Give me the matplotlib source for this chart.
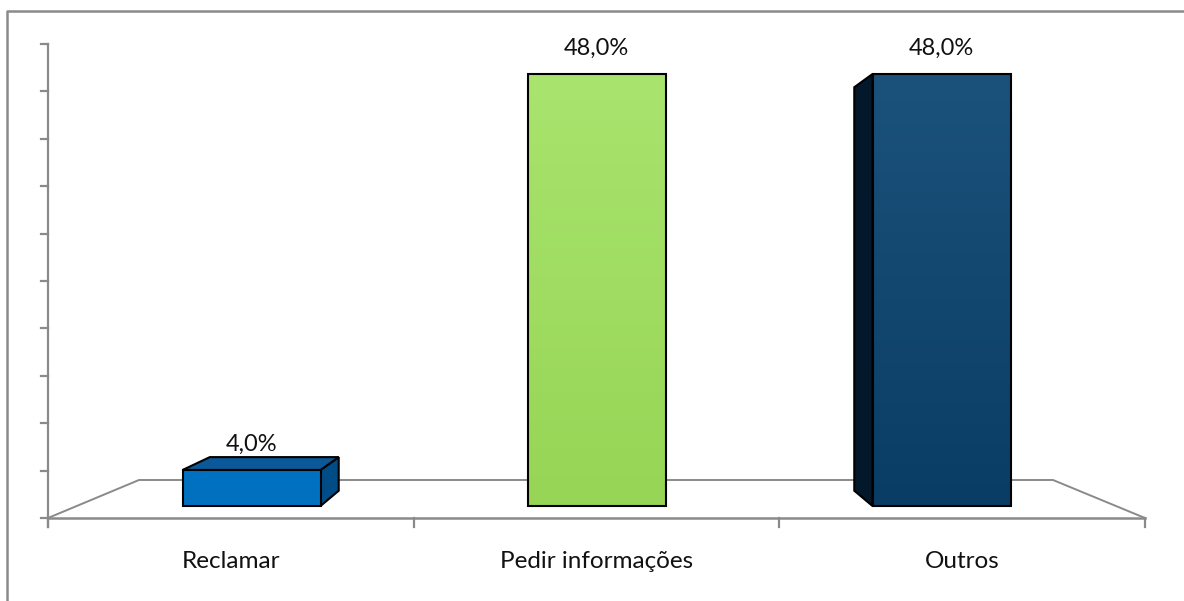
import numpy as np
import matplotlib.pyplot as plt
from matplotlib.patches import Polygon
from matplotlib.colors import LinearSegmentedColormap

plt.rcParams['font.family'] = ['Lato', 'DejaVu Sans']

# dados do gráfico
categorias = ['Reclamar', 'Pedir informações', 'Outros']
valores = [4.0, 48.0, 48.0]
rotulos = ['4,0%', '48,0%', '48,0%']

# cores: frente (topo, base), tampa, lateral
cor_frente = [('#0071C1', '#0070BF'), ('#A9E46E', '#96D555'), ('#1B527B', '#0A3D65')]
cor_tampa = ['#0A5898', '#8FCB52', '#0F3F66']
cor_lado = ['#004C86', '#7FB844', '#03192B']

largura = 0.4
fuga = (1.0, 25.7)   # ponto de fuga da perspectiva
prof = 0.934         # escala da face de trás

fig = plt.figure(figsize=(11.84, 6.01), dpi=100)

# camada de fundo em pixels: moldura, chão e eixos
deco = fig.add_axes([0, 0, 1, 1])
deco.set_xlim(0, 1184)
deco.set_ylim(601, 0)
deco.axis('off')
cinza = '#8A8A8A'
deco.plot([7, 7, 1184], [601, 11, 11], color=cinza, lw=1.8, solid_capstyle='butt')

# chão em perspectiva
deco.plot([48, 139, 1053, 1145], [518, 480, 480, 518], color=cinza, lw=1.4)
deco.plot([48, 1145], [518, 518], color=cinza, lw=1.8)
# eixo vertical e marcas
deco.plot([48, 48], [44, 527], color=cinza, lw=1.6)
for yt in np.linspace(518, 44, 11):
    deco.plot([41, 48], [yt, yt], color=cinza, lw=1.6)
xt = np.linspace(48, 1145, len(categorias) + 1)
for x in xt:
    deco.plot([x, x], [518, 527], color=cinza, lw=1.6)
for i, nome in enumerate(categorias):
    deco.text((xt[i] + xt[i + 1]) / 2, 562, nome, ha='center', va='center',
              fontsize=17.5, color='#111111')

# barras em coordenadas de dados (categoria x percentual)
ax = fig.add_axes([0, 0, 1, 1])
ax.patch.set_alpha(0)
ax.axis('off')


def atras(x, y):
    return (fuga[0] + prof * (x - fuga[0]), fuga[1] + prof * (y - fuga[1]))


barras = ax.bar(range(len(valores)), valores, width=largura, color='none',
                edgecolor='black', linewidth=1.5, zorder=3)

for i, b in enumerate(barras):
    x0, x1 = b.get_x(), b.get_x() + b.get_width()
    y0, y1 = 0, b.get_height()
    # faces laterais e tampa visíveis
    faces = []
    if x1 < fuga[0]:
        faces.append(([(x1, y0), (x1, y1), atras(x1, y1), atras(x1, y0)], cor_lado[i]))
    if x0 > fuga[0]:
        faces.append(([(x0, y0), (x0, y1), atras(x0, y1), atras(x0, y0)], cor_lado[i]))
    if y1 < fuga[1]:
        faces.append(([(x0, y1), (x1, y1), atras(x1, y1), atras(x0, y1)], cor_tampa[i]))
    for pts, c in faces:
        ax.add_patch(Polygon(pts, closed=True, facecolor=c, edgecolor='black',
                             lw=1.5, joinstyle='miter', zorder=2))
    # frente com gradiente suave
    cmap = LinearSegmentedColormap.from_list('g%d' % i, [cor_frente[i][1], cor_frente[i][0]])
    grad = np.linspace(0, 1, 256).reshape(-1, 1)
    im = ax.imshow(grad, cmap=cmap, origin='lower', aspect='auto',
                   extent=(x0, x1, y0, y1), zorder=2.5)
    im.set_clip_path(b)
    ax.annotate(rotulos[i], xy=(b.get_x() + b.get_width() / 2, y1), xytext=(0, 13.5),
                textcoords='offset points', ha='center', va='baseline',
                fontsize=17, color='#111111')

ax.set_xlim(-251.5 / 345, (1184 - 251.5) / 345)
ax.set_ylim((506 - 601) / 9, 506 / 9)

plt.savefig('out.png', dpi=100)
